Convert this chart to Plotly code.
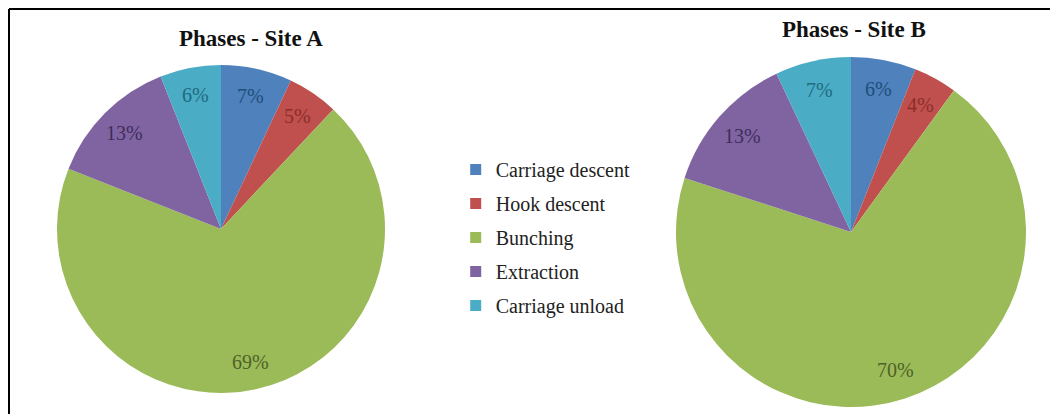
import math
import plotly.graph_objects as go

W, H = 1050, 414

phases = ["Carriage descent", "Hook descent", "Bunching", "Extraction", "Carriage unload"]
site_a = [7, 5, 69, 13, 6]
site_b = [6, 4, 70, 13, 7]
titles = ["Phases - Site A", "Phases - Site B"]

colors = ["#4F81BD", "#C0504D", "#9BBB59", "#8064A2", "#4BACC6"]
label_colors = ["#1F4E79", "#8B2E2B", "#4F6228", "#3F2D5C", "#1F6B80"]

FONT = "Liberation Serif, Times New Roman, serif"

# pie geometry in pixels (centre x, centre y, radius)
geo = [(221, 229, 164), (851, 232, 175)]
title_pos = [(251, 39), (854, 30)]

fig = go.Figure()
annotations = []

for (cx, cy, r), vals, title, (tx, ty) in zip(geo, [site_a, site_b], titles, title_pos):
    fig.add_trace(go.Pie(
        labels=phases, values=vals, sort=False, direction="clockwise", rotation=0,
        marker=dict(colors=colors, line=dict(width=0)),
        textinfo="none", hoverinfo="label+percent", showlegend=False,
        domain=dict(x=[(cx - r) / W, (cx + r) / W], y=[1 - (cy + r) / H, 1 - (cy - r) / H]),
    ))
    total = sum(vals)
    cum = 0
    for v, c in zip(vals, label_colors):
        mid = cum + v / 2
        cum += v
        ang = math.radians(90 - 360 * mid / total)
        rr = 0.83 * r
        px = cx + rr * math.cos(ang)
        py = cy - rr * math.sin(ang)
        annotations.append(dict(
            x=px / W, y=1 - py / H, xref="paper", yref="paper",
            xanchor="center", yanchor="middle",
            text=f"{round(100 * v / total)}%", showarrow=False,
            font=dict(family=FONT, size=20, color=c),
        ))
    annotations.append(dict(
        x=tx / W, y=1 - ty / H, xref="paper", yref="paper", text=f"<b>{title}</b>",
        xanchor="center", yanchor="middle",
        showarrow=False, font=dict(family=FONT, size=23, color="#111111"),
    ))

# legend entries
for name, col in zip(phases, colors):
    fig.add_trace(go.Scatter(
        x=[None], y=[None], mode="markers", name=name, legendgroup=name,
        marker=dict(symbol="square", size=11, color=col),
    ))

fig.update_layout(
    width=W, height=H,
    margin=dict(l=0, r=0, t=0, b=0),
    paper_bgcolor="white", plot_bgcolor="white",
    xaxis=dict(visible=False), yaxis=dict(visible=False),
    showlegend=True,
    legend=dict(
        x=0.434, y=1 - 150 / H, xanchor="left", yanchor="top",
        font=dict(family=FONT, size=20, color="#222222"),
        tracegroupgap=5, traceorder="grouped", bgcolor="rgba(0,0,0,0)",
        itemwidth=30,
    ),
    annotations=annotations,
    shapes=[
        dict(type="line", xref="paper", yref="paper", x0=9 / W, x1=1, y0=1 - 9 / H, y1=1 - 9 / H,
             line=dict(color="black", width=2)),
        dict(type="line", xref="paper", yref="paper", x0=9 / W, x1=9 / W, y0=1 - 9 / H, y1=0,
             line=dict(color="black", width=2)),
    ],
)

fig.write_html("out.html")
